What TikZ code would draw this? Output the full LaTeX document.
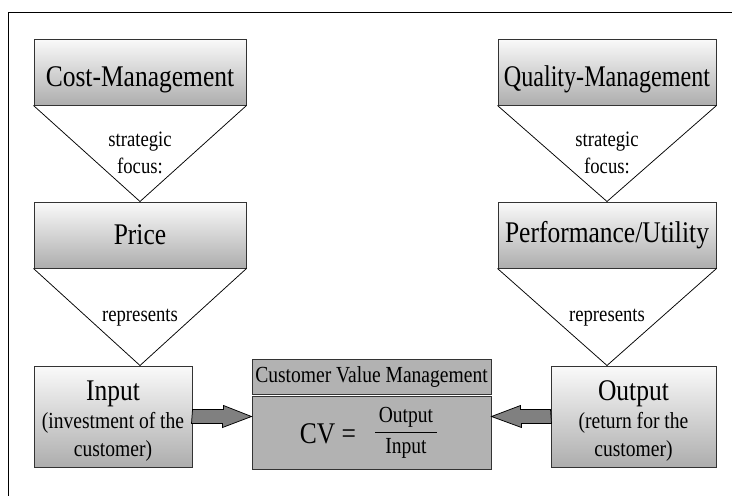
\documentclass[tikz,border=0pt]{standalone}
\usepackage{fontspec}
\setmainfont[FakeStretch=0.85]{Liberation Serif}
\usetikzlibrary{calc}

\tikzset{every picture/.style={line width=0.75pt}}
\tikzset{
  levelbox/.style={draw=black!80, line width=1pt, top color=black!2, bottom color=black!32,
    inner sep=0pt, font=\fontsize{30}{34}\selectfont},
  toplevel/.style={levelbox, text height=35, text depth=6},
  ioflow/.style={draw=black!80, line width=1pt, top color=black!2, bottom color=black!32, inner sep=0pt},
  iotext/.style={align=center, inner sep=0pt, font=\fontsize{23}{28}\selectfont},
  cvmbox/.style={draw=black!80, line width=1pt, fill=black!30, inner sep=0pt},
  funnel/.style={draw=black, line width=0.75pt},
  funneltext/.style={align=center, inner sep=0pt, font=\fontsize{22}{27}\selectfont},
  blockarrow/.style={draw=black, line width=0.75pt, fill=black!50},
}

\begin{document}
\begin{tikzpicture}[x=1pt,y=1pt,yscale=-1]
\useasboundingbox (0,0) rectangle (732,496);
%Frame
\draw [line width=1pt] (8,496) -- (8,12) -- (732,12) ;

%Shape: Rectangle [left column]
\node [toplevel, minimum width=212, minimum height=66] (cost) at (140,72) {Cost-Management};
\node [levelbox, minimum width=212, minimum height=66] (price) at (140,235) {Price};
\node [ioflow, minimum width=158, minimum height=101] (input) at (113,416.5) {};
%Shape: Rectangle [right column]
\node [toplevel, minimum width=218, minimum height=66] (quality) at (607,72) {\scalebox{0.945}[1]{Quality-Management}};
\node [levelbox, minimum width=218, minimum height=66] (perf) at (607,235) {Performance/Utility};
\node [ioflow, minimum width=165, minimum height=101] (output) at (633.5,416.5) {};

%Shape: Rectangle [customer value]
\node [cvmbox, minimum width=239, minimum height=35, font=\fontsize{23}{28}\selectfont] (cvm) at (371.5,376.5) {Customer Value Management};
\node [cvmbox, minimum width=239, minimum height=73] (cvf) at (371.5,432.5) {};

%Triangles
\draw [funnel] (cost.south west) -- (cost.south |- price.north) -- (cost.south east) ;
\draw [funnel] (price.south west) -- (price.south |- input.north) -- (price.south east) ;
\draw [funnel] (quality.south west) -- (quality.south |- perf.north) -- (quality.south east) ;
\draw [funnel] (perf.south west) -- (perf.south |- output.north) -- (perf.south east) ;

%Block arrows
\draw [blockarrow] (input.east) ++(0,-7) -- ++(31,0) -- ++(0,-4) -- (cvf.west |- input.east) -- ++(-29,11) -- ++(0,-4) -- ++(-31,0) -- cycle ;
\draw [blockarrow] (output.west) ++(0,-7) -- ++(-30,0) -- ++(0,-4) -- (cvf.east |- output.west) -- ++(30,11) -- ++(0,-4) -- ++(30,0) -- cycle ;

% Text Node
\node [funneltext] (focusL) at ($(cost.south)!0.49!(price.north)$) {strategic\\focus:};
\node [funneltext] (focusR) at ($(quality.south)!0.49!(perf.north)$) {strategic\\focus:};
\node [funneltext] (reprL) at ($(price.south)!0.51!(price.south |- input.north)$) {represents};
\node [funneltext] (reprR) at ($(perf.south)!0.51!(perf.south |- output.north)$) {represents};
% Text Node
\node [iotext] (inputtxt) at ($(input.center)+(0,5)$)
  {{\fontsize{30}{30}\selectfont Input}\\(investment of the\\customer)};
\node [iotext] (outputtxt) at ($(output.center)+(0,5)$)
  {{\fontsize{30}{30}\selectfont Output}\\(return for the\\customer)};
% Text Node
\node [inner sep=0pt, font=\fontsize{30}{34}\selectfont] (cveq) at (328,434) {CV =};
\node [inner sep=0pt, font=\fontsize{23}{30}\selectfont] (cvfrac) at (406,432)
  {\begin{tabular}{@{\,}c@{\,}}Output\\\hline Input\end{tabular}};

\end{tikzpicture}
\end{document}
